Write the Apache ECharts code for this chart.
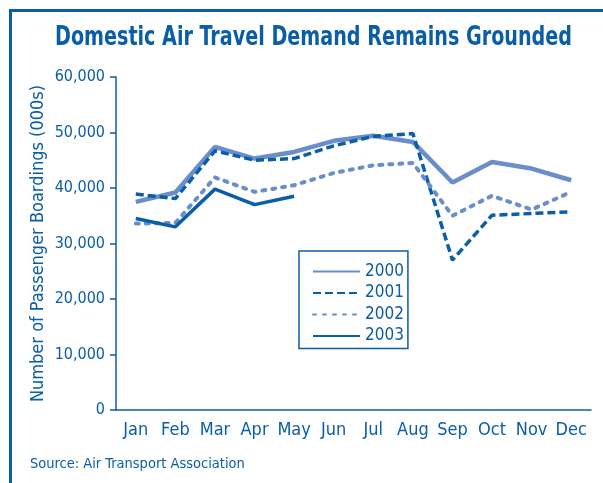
<!DOCTYPE html>
<html>
<head>
<meta charset="utf-8">
<script src="https://cdn.jsdelivr.net/npm/echarts@6/dist/echarts.min.js"></script>
<style>
  html, body { margin: 0; padding: 0; background: #fff; }
  #chart { width: 603px; height: 483px; }
</style>
</head>
<body>
<div id="chart"></div>
<script>
// 月份
var months = ['Jan', 'Feb', 'Mar', 'Apr', 'May', 'Jun', 'Jul', 'Aug', 'Sep', 'Oct', 'Nov', 'Dec']

// 各年数据 (千人次)
var y2000 = [37500, 39200, 47400, 45300, 46500, 48500, 49400, 48300, 41000, 44700, 43500, 41400]
var y2001 = [38900, 38100, 46700, 45000, 45300, 47600, 49300, 49800, 27000, 35100, 35400, 35700]
var y2002 = [33600, 33700, 41900, 39300, 40500, 42700, 44100, 44500, 35000, 38600, 36100, 39300]
var y2003 = [34500, 33000, 39800, 37000, 38500]

var darkBlue = '#0a5ea8'
var lightBlue = '#6a8ecb'
var font = '"Liberation Sans Narrow", "DejaVu Sans Condensed", "Roboto", sans-serif'

// 标题按参考图宽度压缩
var titleText = 'Domestic Air Travel Demand Remains Grounded'
var titleFont = 'bold 27px ' + font
var ctx = document.createElement('canvas').getContext('2d')
ctx.font = titleFont
var titleScale = 517 / ctx.measureText(titleText).width

var chart = echarts.init(document.getElementById('chart'))

chart.setOption({
  animation: false,
  graphic: [
    { type: 'rect', shape: { x: 9, y: 9, width: 3, height: 474 }, style: { fill: darkBlue } },
    { type: 'rect', shape: { x: 9, y: 9, width: 594, height: 3 }, style: { fill: darkBlue } },
    {
      type: 'text', x: 55, y: 24, scaleX: titleScale,
      style: { text: titleText, fill: darkBlue, font: titleFont }
    },
    {
      type: 'text', left: 30, top: 457,
      style: { text: 'Source: Air Transport Association', fill: darkBlue, font: '14.5px ' + font }
    }
  ],
  grid: { left: 116, right: 12, top: 77, bottom: 73 },
  legend: {
    orient: 'vertical',
    left: 299,
    top: 251,
    padding: [12, 4, 4, 13],
    borderColor: darkBlue,
    borderWidth: 1.5,
    itemWidth: 47,
    itemHeight: 14,
    itemGap: 4.5,
    itemStyle: { opacity: 0 },
    textStyle: { color: darkBlue, fontFamily: font, fontSize: 17, lineHeight: 14 },
    data: ['2000', '2001', '2002', '2003']
  },
  xAxis: {
    type: 'category',
    data: months,
    boundaryGap: true,
    axisLine: { lineStyle: { color: darkBlue, width: 1.5 } },
    axisTick: { length: 7, lineStyle: { color: darkBlue, width: 1.5 } },
    axisLabel: { interval: 0, color: darkBlue, fontFamily: font, fontSize: 18, margin: 11 }
  },
  yAxis: {
    type: 'value',
    min: 0,
    max: 60000,
    interval: 10000,
    name: 'Number of Passenger Boardings (000s)',
    nameLocation: 'middle',
    nameGap: 69,
    nameMoveOverlap: false,
    nameTextStyle: { color: darkBlue, fontFamily: font, fontSize: 18 },
    splitLine: { show: false },
    axisLine: { show: true, lineStyle: { color: darkBlue, width: 1.5 } },
    axisTick: { show: true, length: 6, lineStyle: { color: darkBlue, width: 1.5 } },
    axisLabel: {
      color: darkBlue, fontFamily: font, fontSize: 16, margin: 11,
      formatter: function(v) { return v.toLocaleString('en-US') }
    }
  },
  series: [
    {
      name: '2000', type: 'line', data: y2000, symbol: 'none',
      itemStyle: { color: lightBlue },
      lineStyle: { color: lightBlue, width: 4.5 }
    },
    {
      name: '2001', type: 'line', data: y2001, symbol: 'none',
      itemStyle: { color: darkBlue },
      lineStyle: { color: darkBlue, width: 3.5, type: [8, 4] }
    },
    {
      name: '2002', type: 'line', data: y2002, symbol: 'none',
      itemStyle: { color: lightBlue },
      lineStyle: { color: lightBlue, width: 4, type: [3, 7], cap: 'round' }
    },
    {
      name: '2003', type: 'line', data: y2003, symbol: 'none',
      itemStyle: { color: darkBlue },
      lineStyle: { color: darkBlue, width: 3.5 }
    }
  ]
})
</script>
</body>
</html>
